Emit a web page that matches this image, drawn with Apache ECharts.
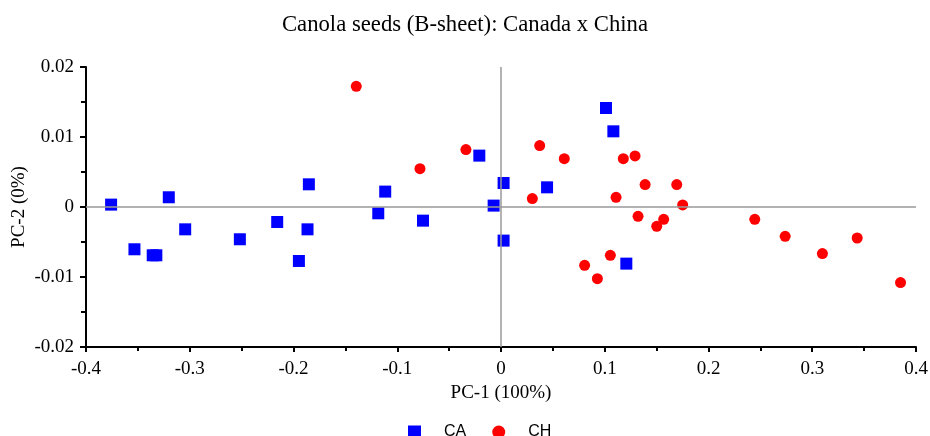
<!DOCTYPE html>
<html><head><meta charset="utf-8">
<script src="https://cdn.jsdelivr.net/npm/echarts@6/dist/echarts.min.js"></script>
<style>html,body{margin:0;padding:0;background:#fff}#c{width:930px;height:436px}</style>
</head><body><div id="c"></div>
<script>
const title = "Canola seeds (B-sheet): Canada x China";
const xName = "PC-1 (100%)";
const yName = "PC-2 (0%)";
const seriesNames = ["CA", "CH"];
const caX = [-0.3758,-0.3533,-0.3357,-0.3322,-0.3202,-0.3044,-0.2517,-0.2157,-0.1948,-0.1852,-0.1865,-0.1183,-0.1116,-0.0752,-0.0209,-0.0071,0.0025,0.0025,0.1012,0.1083,0.0444,0.1208];
const caY = [0.00034,-0.00604,-0.0069,-0.0069,0.00139,-0.00319,-0.00461,-0.00214,-0.00771,0.00324,-0.00319,-0.0009,0.0022,-0.00195,0.00734,0.0002,0.00343,-0.0048,0.01414,0.01081,0.00281,-0.00809];
const chX = [-0.1395,-0.0781,-0.0338,0.0373,0.061,0.1179,0.1292,0.0302,0.1109,0.1389,0.1694,0.1751,0.1321,0.1568,0.1501,0.0806,0.0929,0.1054,0.2446,0.2739,0.3098,0.3433,0.3851];
const chY = [0.01724,0.00548,0.0082,0.00877,0.00691,0.00691,0.00729,0.0012,0.00139,0.0032,0.0032,0.00029,-0.00133,-0.00176,-0.00276,-0.00833,-0.01024,-0.0069,-0.00176,-0.00419,-0.00666,-0.00443,-0.0108];

const serif = "Liberation Serif";
const chart = echarts.init(document.getElementById('c'));
const pair = (xs, ys) => xs.map((v, i) => [v, ys[i]]);
chart.setOption({
  animation: false,
  title: { text: title, left: 'center', top: 9, textStyle: { fontFamily: serif, fontSize: 22.7, fontWeight: 'normal', color: '#000' } },
  legend: {
    top: 424, left: 408, itemGap: 26, itemWidth: 13, itemHeight: 13, padding: 0,
    textStyle: { fontFamily: 'Liberation Sans', fontSize: 16, color: '#000', padding: [0, 0, 0, 18] },
    data: [{ name: seriesNames[0], icon: 'rect' }, { name: seriesNames[1], icon: 'circle' }]
  },
  grid: { left: 86, right: 14, top: 67, bottom: 89, containLabel: false, outerBoundsMode: 'none' },
  xAxis: {
    type: 'value', min: -0.4, max: 0.4, interval: 0.1,
    name: xName, nameLocation: 'middle', nameGap: 37, nameMoveOverlap: false,
    nameTextStyle: { fontFamily: serif, fontSize: 19, color: '#000' },
    axisLine: { onZero: false, lineStyle: { color: '#000', width: 2 } },
    axisTick: { show: true, length: 5, lineStyle: { color: '#000', width: 2 } },
    minorTick: { show: true, splitNumber: 2, length: 4, lineStyle: { color: '#000', width: 2 } },
    splitLine: { show: false },
    axisLabel: { fontFamily: serif, fontSize: 19, color: '#000', margin: 13 }
  },
  yAxis: {
    type: 'value', min: -0.02, max: 0.02, interval: 0.01,
    name: yName, nameLocation: 'middle', nameGap: 57, nameRotate: 90, nameMoveOverlap: false,
    nameTextStyle: { fontFamily: serif, fontSize: 19, color: '#000' },
    axisLine: { onZero: false, lineStyle: { color: '#000', width: 2 } },
    axisTick: { show: true, length: 6, lineStyle: { color: '#000', width: 2 } },
    minorTick: { show: true, splitNumber: 2, length: 5, lineStyle: { color: '#000', width: 2 } },
    splitLine: { show: false },
    axisLabel: { fontFamily: serif, fontSize: 19, color: '#000', margin: 12 }
  },
  series: [
    {
      name: seriesNames[0], type: 'scatter', symbol: 'rect', symbolSize: 12,
      itemStyle: { color: '#0000ff', opacity: 1 },
      data: pair(caX, caY),
      markLine: {
        silent: true, symbol: 'none', label: { show: false },
        lineStyle: { color: '#999', width: 1.5, type: 'solid' },
        data: [{ xAxis: 0 }, { yAxis: 0 }]
      },
      z: 3
    },
    {
      name: seriesNames[1], type: 'scatter', symbol: 'circle', symbolSize: 11,
      itemStyle: { color: '#ff0000', opacity: 1 },
      data: pair(chX, chY),
      z: 3
    }
  ]
});
</script></body></html>
